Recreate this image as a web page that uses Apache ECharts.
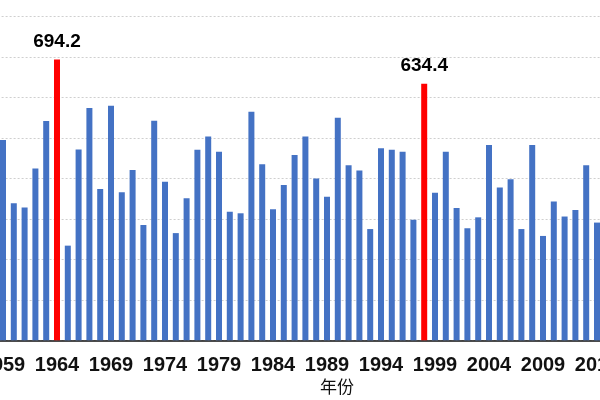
<!DOCTYPE html>
<html>
<head>
<meta charset="utf-8">
<script src="https://cdn.jsdelivr.net/npm/echarts@6/dist/echarts.min.js"></script>
<style>html,body{margin:0;padding:0;background:#fff}#c{width:600px;height:400px}</style>
</head>
<body>
<div id="c"></div>
<script>
var years = ['1959','1960','1961','1962','1963','1964','1965','1966','1967','1968','1969','1970','1971','1972','1973','1974','1975','1976','1977','1978','1979','1980','1981','1982','1983','1984','1985','1986','1987','1988','1989','1990','1991','1992','1993','1994','1995','1996','1997','1998','1999','2000','2001','2002','2003','2004','2005','2006','2007','2008','2009','2010','2011','2012','2013','2014'];
var values = [495,339,328,425,542,694.2,234,472,574,374,580,366,421,285,543,392,265,351,471,504,466,318,314,565,435,324,384,458,504,400,355,550,433,420,275,475,471,466,298,634.4,365,466,327,277,304,483,378,398,275,483,258,343,306,322,433,291];
var highlightYears = ['1964','1998'];
var axisName = '年份';

var seriesData = values.map(function (v, i) {
  if (highlightYears.indexOf(years[i]) >= 0) {
    return {
      value: v,
      itemStyle: { color: '#FF0000' },
      label: {
        show: true, position: 'top', distance: 8,
        formatter: function (p) { return p.value.toFixed(1); },
        fontFamily: 'Liberation Sans', fontWeight: 'bold', fontSize: 19, color: '#000'
      }
    };
  }
  return v;
});

var chart = echarts.init(document.getElementById('c'), null, { renderer: 'canvas' });
chart.setOption({
  animation: false,
  backgroundColor: '#fff',
  title: {
    text: axisName, left: 315, top: 373,
    textStyle: { fontFamily: 'Noto Sans CJK SC', fontSize: 17, fontWeight: 'normal', color: '#111' }
  },
  grid: { left: -2.4, right: -2.4, top: 16.7, bottom: 59.7, containLabel: false, outerBoundsMode: 'none' },
  xAxis: {
    type: 'category', data: years,
    axisTick: { show: false },
    axisLine: { lineStyle: { color: '#111', width: 1.5 } },
    axisLabel: { interval: 4, margin: 15, fontFamily: 'Liberation Sans', fontSize: 20, fontWeight: 'bold', color: '#111' }
  },
  yAxis: {
    type: 'value', min: 0, max: 800, interval: 100,
    axisLabel: { show: false }, axisLine: { show: false }, axisTick: { show: false },
    splitLine: { lineStyle: { type: [2, 2], color: '#cfcfcf', width: 1 } }
  },
  series: [{
    type: 'bar', data: seriesData, barWidth: 6,
    itemStyle: { color: '#4472C4' }
  }]
});
</script>
</body>
</html>
